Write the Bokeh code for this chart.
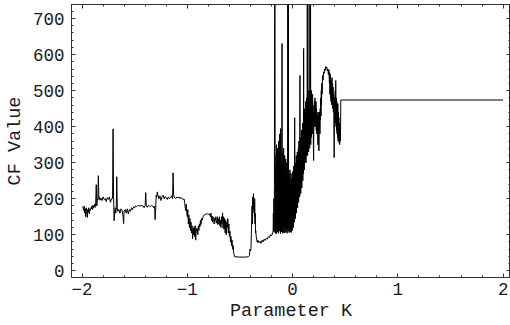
from bokeh.plotting import figure
from bokeh.models import Range1d, LinearAxis, BasicTicker, ColumnDataSource
from bokeh.embed import file_html
from bokeh.resources import INLINE

# --- data (Parameter K vs CF Value) ---
k_left = [-2.00, -1.99, -1.985, -1.98, -1.975, -1.97, -1.965, -1.96, -1.955, -1.95, -1.945, -1.94,
          -1.935, -1.93, -1.925, -1.92, -1.915, -1.91, -1.905, -1.90, -1.895, -1.89, -1.885, -1.88,
          -1.875, -1.87, -1.865, -1.86, -1.855, -1.85, -1.845, -1.84, -1.835, -1.83, -1.82, -1.81,
          -1.80, -1.79, -1.78, -1.77, -1.76, -1.75, -1.74, -1.73, -1.72, -1.71, -1.705, -1.70,
          -1.695, -1.69, -1.685, -1.68, -1.675, -1.67, -1.665, -1.66, -1.65, -1.64, -1.63, -1.62,
          -1.61, -1.605, -1.60, -1.59, -1.58, -1.57, -1.56, -1.55, -1.54, -1.53, -1.52, -1.51,
          -1.50, -1.49, -1.48, -1.47, -1.46, -1.45, -1.44, -1.43, -1.42, -1.41, -1.40, -1.395,
          -1.39, -1.38, -1.37, -1.36, -1.35, -1.34, -1.33, -1.32, -1.31, -1.306, -1.30, -1.295,
          -1.29, -1.285, -1.28, -1.27, -1.26, -1.25, -1.24, -1.23, -1.22, -1.21, -1.20, -1.19,
          -1.18, -1.17, -1.16, -1.15, -1.14, -1.135, -1.13, -1.12, -1.11, -1.10]
cf_left = [178, 175, 168, 180, 160, 172, 150, 175, 165, 148, 170, 162,
           175, 158, 170, 168, 175, 172, 180, 170, 182, 175, 178, 185,
           176, 190, 239, 180, 195, 200, 264, 198, 205, 196, 202, 195,
           205, 198, 200, 192, 203, 198, 205, 190, 200, 200, 394, 200,
           139, 165, 175, 160, 170, 261, 175, 165, 170, 160, 172, 168,
           150, 131, 165, 170, 160, 172, 158, 170, 165, 175, 170, 178,
           175, 180, 178, 181, 180, 181, 180, 181, 180, 175, 181, 217,
           180, 176, 181, 180, 178, 181, 180, 175, 180, 142, 175, 210,
           205, 219, 210, 200, 208, 195, 205, 210, 200, 206, 202, 198,
           205, 200, 203, 208, 200, 272, 210, 203, 200, 205]

k_mid = [-1.09, -1.08, -1.07, -1.06, -1.05, -1.04, -1.03, -1.025, -1.02, -1.015, -1.01, -1.005,
         -1.00, -0.995, -0.99, -0.985, -0.98, -0.975, -0.97, -0.965, -0.96, -0.955, -0.95, -0.945,
         -0.94, -0.935, -0.93, -0.925, -0.92, -0.915, -0.91, -0.905, -0.90, -0.895, -0.89, -0.885,
         -0.88, -0.875, -0.87, -0.865, -0.86, -0.85, -0.84, -0.83, -0.82, -0.81, -0.80, -0.79,
         -0.78, -0.775, -0.77, -0.765, -0.76, -0.755, -0.75, -0.745, -0.74, -0.735, -0.73, -0.725,
         -0.72, -0.715, -0.71, -0.705, -0.70, -0.695, -0.69, -0.685, -0.68, -0.675, -0.67, -0.665,
         -0.66, -0.655, -0.65, -0.645, -0.64, -0.635, -0.63, -0.625, -0.62, -0.615, -0.61, -0.605,
         -0.60, -0.595, -0.59, -0.585, -0.58, -0.575, -0.57, -0.565, -0.56, -0.555, -0.55, -0.50,
         -0.45, -0.42, -0.41, -0.405, -0.40, -0.395, -0.39, -0.387, -0.385, -0.382, -0.38, -0.377,
         -0.375, -0.371, -0.368, -0.365, -0.362, -0.36, -0.357, -0.355, -0.352, -0.35, -0.345,
         -0.34, -0.335, -0.33, -0.32, -0.31, -0.30, -0.29, -0.28, -0.27, -0.26, -0.25, -0.24,
         -0.23, -0.22, -0.21, -0.20, -0.19]
cf_mid = [202, 205, 200, 204, 200, 198, 199, 190, 175, 167, 185, 160,
          150, 170, 130, 155, 120, 145, 111, 135, 105, 125, 89, 118,
          100, 122, 95, 125, 85, 118, 110, 117, 100, 125, 112, 130,
          122, 140, 128, 145, 140, 150, 155, 156, 158, 158, 157, 158,
          150, 160, 140, 152, 135, 150, 148, 130, 145, 140, 150, 132,
          138, 150, 128, 145, 130, 150, 125, 140, 120, 150, 130, 161,
          118, 150, 115, 145, 105, 140, 100, 135, 120, 145, 105, 130,
          95, 110, 80, 95, 70, 85, 60, 70, 50, 45, 39, 38,
          38, 39, 42, 60, 55, 61, 120, 150, 180, 130, 204, 160,
          195, 214, 170, 190, 150, 200, 130, 160, 105, 111, 95,
          85, 79, 85, 78, 82, 76, 85, 80, 88, 84, 90, 88,
          95, 92, 100, 97, 105]

k_burst = [-0.1850, -0.1825, -0.1800, -0.1775, -0.1750, -0.1725, -0.1700, -0.1675, -0.1650,
           -0.1625, -0.1600, -0.1575, -0.1550, -0.1525, -0.1500, -0.1475, -0.1450, -0.1425,
           -0.1400, -0.1375, -0.1350, -0.1325, -0.1300, -0.1275, -0.1250, -0.1225, -0.1200,
           -0.1175, -0.1150, -0.1125, -0.1100, -0.1075, -0.1050, -0.1025, -0.1000, -0.0975,
           -0.0950, -0.0925, -0.0900, -0.0875, -0.0850, -0.0825, -0.0800, -0.0775, -0.0750,
           -0.0725, -0.0700, -0.0675, -0.0650, -0.0625, -0.0600, -0.0575, -0.0550, -0.0525,
           -0.0500, -0.0475, -0.0450, -0.0425, -0.0400, -0.0375, -0.0350, -0.0325, -0.0300,
           -0.0275, -0.0250, -0.0225, -0.0200, -0.0175, -0.0150, -0.0125, -0.0100, -0.0075,
           -0.0050, -0.0025, 0.0000, 0.0025, 0.0050, 0.0075, 0.0100, 0.0125, 0.0150, 0.0175,
           0.0200, 0.0225, 0.0250, 0.0275, 0.0300, 0.0325, 0.0350, 0.0375, 0.0400, 0.0425,
           0.0450, 0.0475, 0.0500, 0.0525, 0.0550, 0.0575, 0.0600, 0.0625, 0.0650, 0.0675,
           0.0700, 0.0725, 0.0750, 0.0775, 0.0800, 0.0825, 0.0850, 0.0875, 0.0900, 0.0925,
           0.0950, 0.0975, 0.1000, 0.1025, 0.1050, 0.1075, 0.1100, 0.1125, 0.1150, 0.1175,
           0.1200, 0.1225, 0.1250, 0.1275, 0.1300, 0.1325, 0.1350, 0.1375, 0.1400, 0.1425,
           0.1450, 0.1475, 0.1500, 0.1525, 0.1550, 0.1575, 0.1600, 0.1625, 0.1650, 0.1675,
           0.1700, 0.1725, 0.1750, 0.1775, 0.1800, 0.1825, 0.1850, 0.1875, 0.1900, 0.1925,
           0.1950, 0.1975, 0.2000, 0.2025, 0.2050, 0.2075, 0.2100, 0.2125, 0.2150, 0.2175,
           0.2200, 0.2225, 0.2250, 0.2275, 0.2300, 0.2325, 0.2350, 0.2375, 0.2400, 0.2425,
           0.2450, 0.2475, 0.2500, 0.2525, 0.2550, 0.2575, 0.2600, 0.2625, 0.2650, 0.2675,
           0.2700, 0.2725, 0.2750, 0.2775, 0.2800]
cf_burst = [110, 160, 112, 200, 108, 240, 900, 900, 105,
            290, 110, 320, 102, 350, 115, 300, 108, 340,
            120, 270, 104, 360, 125, 310, 110, 380, 118,
            330, 103, 395, 130, 300, 108, 350, 631, 110,
            330, 104, 300, 122, 340, 106, 280, 118, 320,
            105, 290, 125, 310, 108, 260, 120, 300, 104,
            280, 115, 900, 110, 900, 120, 270, 106, 250,
            118, 280, 108, 240, 122, 270, 106, 255, 125,
            240, 112, 275, 130, 260, 120, 290, 140, 270, 135,
            425, 150, 300, 145, 290, 170, 320, 160, 300, 180,
            330, 175, 320, 195, 340, 190, 360, 210, 330, 205,
            542, 220, 370, 214, 350, 240, 390, 230, 380, 260,
            410, 250, 400, 270, 617, 285, 430, 280, 450, 300,
            420, 310, 470, 300, 440, 320, 480, 330, 900, 320,
            900, 340, 480, 330, 500, 350, 470, 340, 900, 360,
            900, 350, 490, 370, 500, 380, 470, 400, 490, 380,
            460, 350, 306, 440, 400, 470, 410, 480, 400, 460,
            420, 470, 390, 450, 380, 440, 400, 430, 350, 420,
            390, 440, 333, 420, 400, 440, 380, 450, 420, 480,
            430, 500, 460, 520, 490]

k_peak = [0.285, 0.29, 0.295, 0.30, 0.305, 0.31, 0.315, 0.32, 0.325, 0.33, 0.335, 0.34,
          0.345, 0.35, 0.3525, 0.355, 0.3575, 0.36, 0.3625, 0.365, 0.3675, 0.37, 0.3725,
          0.375, 0.3775, 0.38, 0.3825, 0.385, 0.3875, 0.39, 0.3925, 0.395, 0.3975, 0.40,
          0.4025, 0.405, 0.4075, 0.41, 0.4125, 0.415, 0.4175, 0.42, 0.4225, 0.425, 0.4275,
          0.43, 0.4325, 0.435, 0.4375, 0.44, 0.4425, 0.445, 0.4475, 0.45, 0.4525, 0.455]
cf_peak = [542, 530, 552, 548, 560, 556, 567, 562, 565, 555, 560, 545,
           558, 520, 550, 490, 545, 480, 530, 470, 525, 460, 520,
           536, 470, 520, 450, 510, 440, 490, 430, 314, 470, 480,
           410, 500, 420, 528, 400, 480, 390, 470, 380, 460, 370,
           464, 360, 440, 370, 425, 355, 410, 350, 400, 360, 361]

k_tail = [0.458, 2.00]
cf_tail = [474, 474]

k_all = k_left + k_mid + k_burst + k_peak + k_tail
cf_all = cf_left + cf_mid + cf_burst + cf_peak + cf_tail
src = ColumnDataSource(dict(k=k_all, cf=cf_all))

FONT = "Liberation Mono"
AX = "#333333"

p = figure(width=510, height=325, output_backend="svg", toolbar_location=None,
           x_range=Range1d(-2.1, 2.07), y_range=Range1d(-18.6, 739),
           x_axis_location=None, y_axis_location=None,
           min_border_left=71, min_border_right=0, min_border_top=4, min_border_bottom=48)
p.grid.visible = False
p.outline_line_color = AX
p.background_fill_color = "white"
p.border_fill_color = "white"

p.line("k", "cf", source=src, line_color="black", line_width=1)

def style(ax, labels=True):
    ax.axis_line_color = AX
    ax.major_tick_line_color = AX
    ax.minor_tick_line_color = AX
    ax.major_tick_in = 4
    ax.major_tick_out = 0
    ax.minor_tick_in = 2
    ax.minor_tick_out = 0
    if labels:
        ax.major_label_text_font = FONT
        ax.major_label_text_font_size = "17.5px"
        ax.major_label_text_color = "#1a1a1a"
        ax.axis_label_text_font = FONT
        ax.axis_label_text_font_size = "18.5px"
        ax.axis_label_text_font_style = "normal"
        ax.axis_label_text_color = "#1a1a1a"
    else:
        ax.major_label_text_font_size = "0px"
        ax.major_label_standoff = 0
        ax.major_label_text_color = None

xb = LinearAxis(ticker=BasicTicker(min_interval=1, num_minor_ticks=5), axis_label="Parameter K")
style(xb)
xb.major_label_standoff = 5
xb.axis_label_standoff = 3
p.add_layout(xb, "below")

yl = LinearAxis(ticker=BasicTicker(min_interval=100, num_minor_ticks=5), axis_label="CF Value")
style(yl)
yl.major_label_standoff = 7
yl.axis_label_standoff = 4
p.add_layout(yl, "left")

xt = LinearAxis(ticker=BasicTicker(min_interval=1, num_minor_ticks=5))
style(xt, labels=False)
p.add_layout(xt, "above")

yr = LinearAxis(ticker=BasicTicker(min_interval=100, num_minor_ticks=5))
style(yr, labels=False)
p.add_layout(yr, "right")

open("out.html", "w").write(file_html(p, INLINE))
